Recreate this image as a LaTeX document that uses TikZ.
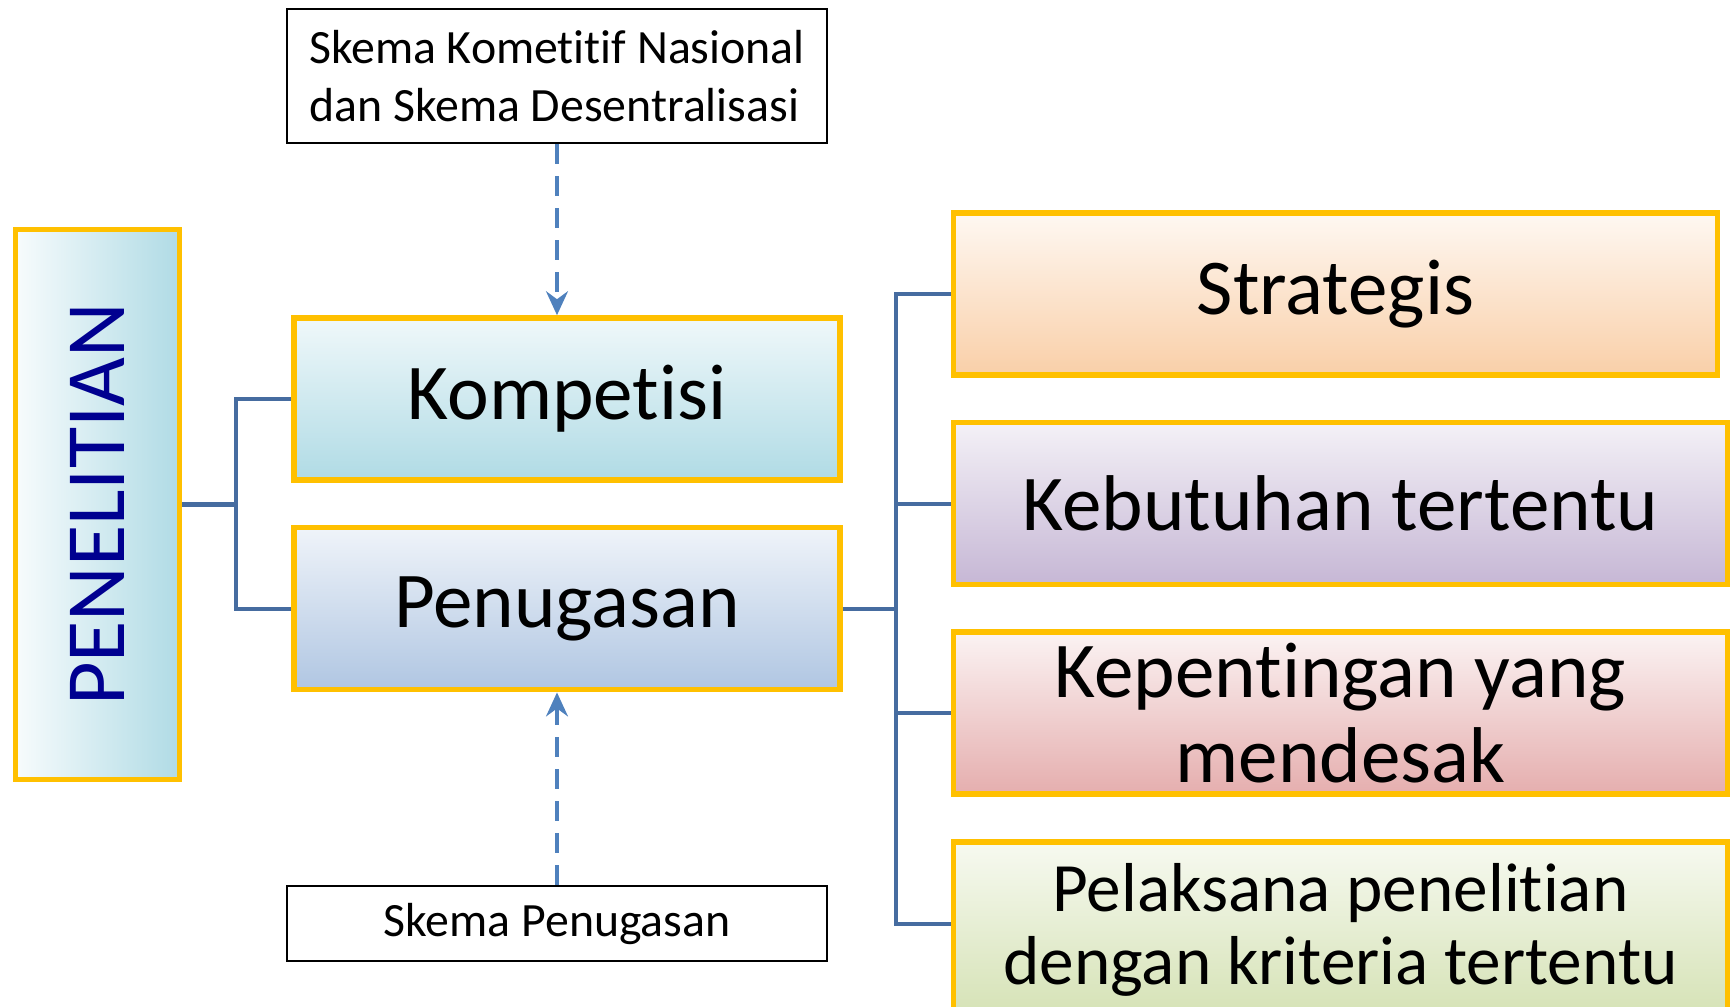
\documentclass[tikz,border=0pt]{standalone}
\usepackage{fontspec}
\setmainfont{Carlito}[Ligatures=NoCommon]
\usepackage{tikz}
\usetikzlibrary{arrows.meta,positioning}

\definecolor{emas}{RGB}{255,192,0}
\definecolor{garisbiru}{RGB}{70,108,160}
\definecolor{panahbiru}{RGB}{79,129,189}
\definecolor{tinta}{RGB}{0,0,144}
\definecolor{birumuda}{RGB}{176,219,229}
\definecolor{biruabu}{RGB}{176,198,226}
\definecolor{persik}{RGB}{249,207,168}
\definecolor{ungu}{RGB}{198,183,213}
\definecolor{merahmuda}{RGB}{229,174,174}
\definecolor{hijaumuda}{RGB}{213,226,181}

\begin{document}
\begin{tikzpicture}[kotak/.style={rectangle, draw=emas, line width=1.6pt, inner sep=0pt, align=center, font=\fontsize{22.5}{24.2}\selectfont},
    cabang/.style={kotak, minimum width=5.46cm, minimum height=1.62cm},
    ranting/.style={kotak, minimum width=7.74cm, minimum height=1.62cm},
    skema/.style={rectangle, draw, line width=0.7pt, inner sep=0pt, minimum width=5.4cm, font=\fontsize{13.6}{16.4}\selectfont},
    garis/.style={draw=garisbiru, line width=1.2pt},
    panah/.style={->, draw=panahbiru, line width=0.9pt, dash pattern=on 2mm off 1.2mm},
    >={Stealth[length=2.4mm, width=2.2mm, inset=0.8mm]}]
        \useasboundingbox (0,0) rectangle (17.34,-10.06);
        % Nodes
        \node[kotak, minimum width=1.64cm, minimum height=5.5cm, left color=white!90!birumuda, right color=birumuda] (penelitian) at (0.975,-5.045) {\fontsize{24}{24}\selectfont\color{tinta}\rotatebox{90}{PENELITIAN}};
        \node[cabang, top color=white!80!birumuda, bottom color=birumuda] (kompetisi) at (5.67,-3.99) {Kompetisi};
        \node[cabang, top color=white!80!biruabu, bottom color=biruabu, below=0.42cm of kompetisi] (penugasan) {Penugasan};
        \node[skema, align=left, minimum height=1.34cm] (nasional) at (5.57,-0.76) {Skema Kometitif Nasional\\dan Skema Desentralisasi};
        \node[skema, minimum height=0.75cm] (skpenugasan) at (5.57,-9.235) {Skema Penugasan};
        \node[ranting, minimum width=7.64cm, top color=white!85!persik, bottom color=persik] (strategis) at (13.355,-2.94) {Strategis};
        \node[ranting, top color=white!80!ungu, bottom color=ungu, below=0.42cm of strategis.south west, anchor=north west] (kebutuhan) {Kebutuhan tertentu};
        \node[ranting, top color=white!85!merahmuda, bottom color=merahmuda, below=0.42cm of kebutuhan] (kepentingan) {Kepentingan yang\\mendesak};
        \node[ranting, minimum height=1.76cm, top color=white!80!hijaumuda, bottom color=hijaumuda, below=0.42cm of kepentingan, font=\fontsize{19.7}{21}\selectfont] (pelaksana) {Pelaksana penelitian\\dengan kriteria tertentu};
        % Garis
        \draw[garis] (penelitian.east) -- ++(0.54,0) coordinate (simpul1);
        \foreach \n in {kompetisi,penugasan}
            \draw[garis] (\n.west) -| (simpul1);
        \draw[garis] (penugasan.east) -- ++(0.53,0) coordinate (simpul2);
        \draw[garis] (strategis.west) -| (simpul2);
        \draw[garis] (kebutuhan.west) -| (simpul2);
        \draw[garis] (kepentingan.west) -| (simpul2);
        \draw[garis] (pelaksana.west) ++(0,0.06) -| (simpul2);
        % Panah putus-putus
        \draw[panah] (nasional.south) -- (nasional.south |- kompetisi.north);
        \draw[panah] (skpenugasan.north) -- (skpenugasan.north |- penugasan.south);
    \end{tikzpicture}
\end{document}
